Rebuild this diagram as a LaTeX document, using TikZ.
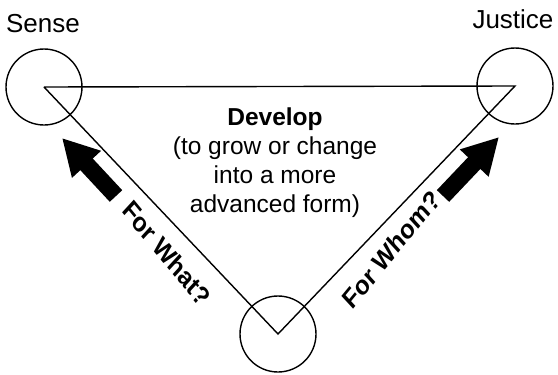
\documentclass[tikz,border=0pt]{standalone}
\usepackage{fontspec}
\setmainfont{Liberation Sans}
\usepackage{tikz}
\usetikzlibrary{arrows.meta,positioning}

\begin{document}
\begin{tikzpicture}
          [x=1pt,y=-1pt,line width=1.4pt]
          \tikzstyle{vertex}=[circle,draw=black,fill=none,inner sep=0pt,minimum size=76pt]
          \tikzstyle{corner label}=[anchor=base,font=\fontsize{26}{30}\selectfont]
          \tikzstyle{side label}=[font=\bfseries\fontsize{27}{30}\selectfont,xscale=0.87,inner sep=0pt]
          \tikzstyle{block arrow}=[line width=17pt,-{Triangle[length=36pt,width=37pt]}]
          \useasboundingbox (0,0) rectangle (558,375);

          \node[vertex] (sense) at (44,87) {};
          \node[vertex] (justice) at (515,86) {};
          \node[vertex] (bottom) at (278,334) {};

          \draw (sense.center) -- (justice.center) -- (bottom.center) -- (sense.center);

          \node[corner label] (senselbl) at (43,32) {Sense};
          \node[corner label] (justicelbl) at (513,28) {Justice};

          \node[anchor=north,inner sep=0pt,align=center,font=\fontsize{24.5}{29}\selectfont] (develop) at (275,107)
            {\textbf{Develop}\\(to grow or change\\into a more\\advanced form)};

          \coordinate (whattail) at (116,196);
          \coordinate (whattip) at (62,138);
          \coordinate (whomtail) at (443,196);
          \coordinate (whomtip) at (499,137);
          \draw[block arrow] (whattail) -- (whattip);
          \draw[block arrow] (whomtail) -- (whomtip);

          \node[side label,rotate=-46.6] (forwhat) at (167,253) {For What?};
          \node[side label,rotate=46.6] (forwhom) at (391,249) {For Whom?};
        \end{tikzpicture}
\end{document}
